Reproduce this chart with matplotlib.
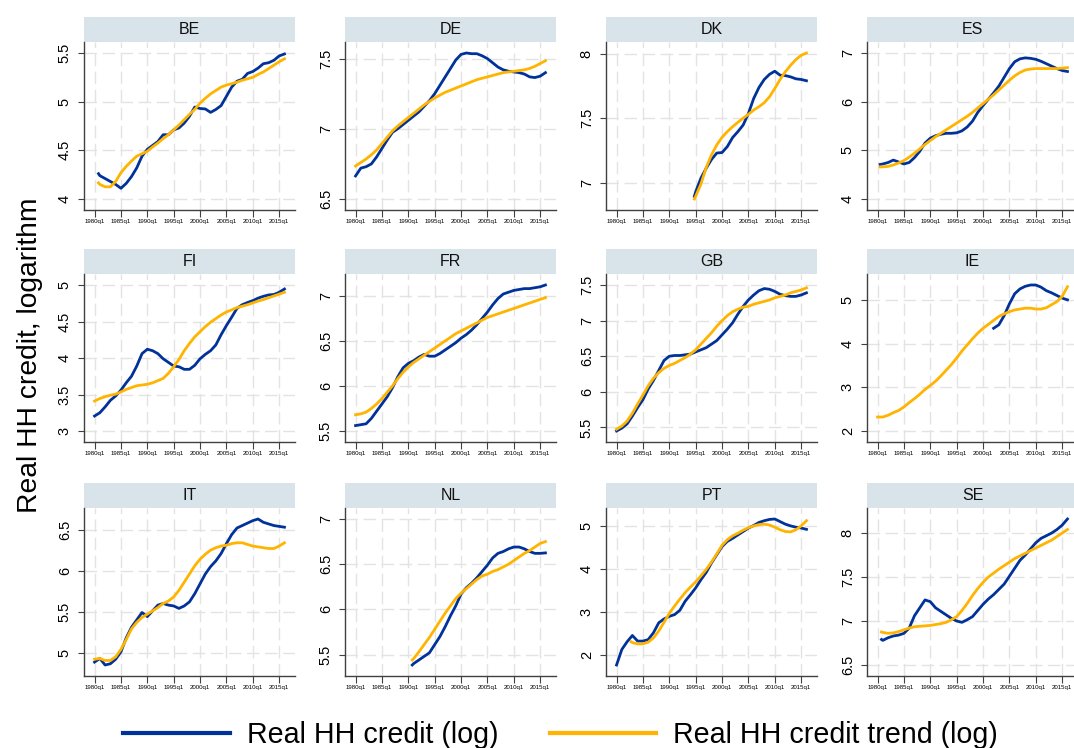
import numpy as np
import matplotlib
matplotlib.use("Agg")
import matplotlib.pyplot as plt
from matplotlib.lines import Line2D

plt.rcParams["font.family"] = ["Liberation Sans", "DejaVu Sans"]

# ---------------------------------------------------------------------------
# Data: real household credit (log) and its trend, yearly readings.
# Each series starts at the given year (quarter fraction allowed) and then
# continues at whole years up to 2016.
# ---------------------------------------------------------------------------
COUNTRIES = ["BE", "DE", "DK", "ES", "FI", "FR", "GB", "IE", "IT", "NL", "PT", "SE"]

BE_CREDIT_START, BE_TREND_START = 1980.75, 1980.75
BE_CREDIT = [4.26, 4.24, 4.21, 4.18, 4.15, 4.11, 4.16, 4.23, 4.32, 4.44, 4.51,
             4.55, 4.59, 4.66, 4.66, 4.71, 4.73, 4.78, 4.85, 4.945, 4.93,
             4.925, 4.89, 4.92, 4.96, 5.055, 5.15, 5.21, 5.23, 5.29, 5.31,
             5.345, 5.39, 5.40, 5.425, 5.47, 5.49]
BE_TREND = [4.166, 4.15, 4.125, 4.125, 4.18, 4.27, 4.335, 4.39, 4.44, 4.465, 4.49,
            4.535, 4.575, 4.62, 4.66, 4.71, 4.76, 4.815, 4.87, 4.92, 4.985,
            5.035, 5.08, 5.115, 5.15, 5.17, 5.185, 5.2, 5.22, 5.235, 5.25,
            5.28, 5.305, 5.34, 5.375, 5.41, 5.44]

DE_CREDIT_START, DE_TREND_START = 1980.0, 1980.0
DE_CREDIT = [6.664, 6.72, 6.73, 6.75, 6.80, 6.86, 6.92, 6.975, 7.0, 7.03,
             7.06, 7.09, 7.12, 7.16, 7.2, 7.25, 7.31, 7.37, 7.43, 7.49,
             7.53, 7.54, 7.535, 7.535, 7.52, 7.5, 7.47, 7.44, 7.42, 7.41,
             7.405, 7.4, 7.39, 7.37, 7.365, 7.375, 7.4]
DE_TREND = [6.735, 6.76, 6.785, 6.815, 6.85, 6.895, 6.94, 6.985, 7.02, 7.05,
            7.08, 7.11, 7.14, 7.17, 7.195, 7.22, 7.24, 7.26, 7.275, 7.29,
            7.305, 7.32, 7.335, 7.35, 7.36, 7.37, 7.38, 7.39, 7.40, 7.405,
            7.41, 7.415, 7.42, 7.43, 7.445, 7.465, 7.485]

DK_CREDIT_START, DK_TREND_START = 1994.75, 1994.75
DK_CREDIT = [6.895, 6.93, 7.036, 7.113, 7.18, 7.23, 7.234, 7.28, 7.35, 7.396,
             7.447, 7.537, 7.653, 7.738, 7.8, 7.84, 7.864, 7.833, 7.83, 7.82,
             7.805, 7.8, 7.79]
DK_TREND = [6.874, 6.895, 6.99, 7.118, 7.216, 7.293, 7.352, 7.396, 7.434, 7.468,
            7.5, 7.53, 7.563, 7.589, 7.62, 7.666, 7.73, 7.8, 7.86, 7.91,
            7.954, 7.987, 8.005]

ES_CREDIT_START, ES_TREND_START = 1980.5, 1980.5
ES_CREDIT = [4.71, 4.72, 4.75, 4.8, 4.76, 4.72, 4.75, 4.85, 4.98, 5.15, 5.25,
             5.3, 5.33, 5.35, 5.35, 5.36, 5.4, 5.48, 5.6, 5.78, 5.92,
             6.05, 6.18, 6.32, 6.5, 6.68, 6.82, 6.88, 6.9, 6.89, 6.87,
             6.83, 6.78, 6.73, 6.68, 6.64, 6.62]
ES_TREND = [4.66, 4.66, 4.67, 4.7, 4.74, 4.79, 4.86, 4.94, 5.03, 5.12, 5.2,
            5.28, 5.35, 5.42, 5.49, 5.56, 5.63, 5.7, 5.78, 5.87, 5.96,
            6.05, 6.14, 6.24, 6.34, 6.44, 6.53, 6.6, 6.65, 6.67, 6.68,
            6.68, 6.68, 6.68, 6.68, 6.69, 6.7]

FI_CREDIT_START, FI_TREND_START = 1980.0, 1980.0
FI_CREDIT = [3.205, 3.25, 3.33, 3.42, 3.48, 3.56, 3.66, 3.75, 3.89, 4.06,
             4.12, 4.1, 4.06, 3.99, 3.94, 3.89, 3.88, 3.845, 3.845, 3.9,
             3.99, 4.05, 4.1, 4.18, 4.32, 4.445, 4.56, 4.68, 4.73, 4.76,
             4.786, 4.82, 4.845, 4.864, 4.87, 4.9, 4.945]
FI_TREND = [3.41, 3.445, 3.47, 3.49, 3.505, 3.535, 3.57, 3.595, 3.62, 3.63,
            3.64, 3.66, 3.69, 3.72, 3.79, 3.88, 3.98, 4.1, 4.2, 4.29,
            4.36, 4.43, 4.49, 4.54, 4.59, 4.63, 4.66, 4.69, 4.71, 4.73,
            4.755, 4.78, 4.8, 4.825, 4.85, 4.875, 4.9]

FR_CREDIT_START, FR_TREND_START = 1980.0, 1980.0
FR_CREDIT = [5.56, 5.57, 5.58, 5.64, 5.72, 5.8, 5.88, 5.98, 6.1, 6.2,
             6.25, 6.28, 6.32, 6.35, 6.33, 6.33, 6.36, 6.4, 6.44, 6.48,
             6.53, 6.57, 6.62, 6.68, 6.75, 6.82, 6.9, 6.97, 7.02, 7.04,
             7.06, 7.07, 7.08, 7.08, 7.09, 7.1, 7.12]
FR_TREND = [5.68, 5.69, 5.71, 5.75, 5.8, 5.86, 5.93, 6.0, 6.08, 6.15,
            6.21, 6.26, 6.3, 6.34, 6.38, 6.42, 6.46, 6.5, 6.54, 6.58,
            6.61, 6.64, 6.67, 6.7, 6.73, 6.76, 6.78, 6.8, 6.82, 6.84,
            6.86, 6.88, 6.9, 6.92, 6.94, 6.96, 6.98]

GB_CREDIT_START, GB_TREND_START = 1980.0, 1980.0
GB_CREDIT = [5.45, 5.49, 5.55, 5.66, 5.78, 5.89, 6.04, 6.16, 6.3, 6.44,
             6.5, 6.51, 6.51, 6.52, 6.53, 6.56, 6.59, 6.62, 6.67, 6.72,
             6.8, 6.88, 6.97, 7.09, 7.2, 7.29, 7.36, 7.42, 7.45, 7.44,
             7.41, 7.37, 7.35, 7.34, 7.34, 7.36, 7.39]
GB_TREND = [5.475, 5.52, 5.59, 5.7, 5.83, 5.955, 6.085, 6.19, 6.27, 6.33,
            6.37, 6.4, 6.44, 6.48, 6.53, 6.59, 6.67, 6.75, 6.83, 6.92,
            7.0, 7.07, 7.125, 7.16, 7.19, 7.2, 7.23, 7.25, 7.27, 7.29,
            7.32, 7.34, 7.36, 7.39, 7.41, 7.43, 7.46]

IE_CREDIT_START, IE_TREND_START = 2002.0, 1980.0
IE_CREDIT = [4.35, 4.43, 4.64, 4.91, 5.14, 5.25, 5.31, 5.34, 5.34, 5.29,
             5.21, 5.16, 5.1, 5.04, 5.0]
IE_TREND = [2.32, 2.32, 2.36, 2.42, 2.47, 2.55, 2.65, 2.74, 2.84, 2.95,
            3.04, 3.14, 3.26, 3.39, 3.52, 3.67, 3.83, 3.97, 4.11, 4.24,
            4.35, 4.44, 4.53, 4.62, 4.68, 4.73, 4.77, 4.79, 4.81, 4.81,
            4.79, 4.79, 4.82, 4.89, 4.96, 5.08, 5.3]

IT_CREDIT_START, IT_TREND_START = 1980.0, 1980.0
IT_CREDIT = [4.885, 4.93, 4.85, 4.865, 4.92, 5.01, 5.18, 5.31, 5.4, 5.49,
             5.44, 5.51, 5.58, 5.6, 5.58, 5.57, 5.54, 5.57, 5.62, 5.72,
             5.84, 5.96, 6.05, 6.12, 6.21, 6.33, 6.44, 6.52, 6.55, 6.58,
             6.61, 6.63, 6.59, 6.57, 6.55, 6.54, 6.53]
IT_TREND = [4.92, 4.93, 4.905, 4.905, 4.95, 5.04, 5.16, 5.29, 5.37, 5.43,
            5.47, 5.51, 5.55, 5.6, 5.63, 5.68, 5.76, 5.86, 5.96, 6.06,
            6.14, 6.2, 6.25, 6.28, 6.3, 6.31, 6.33, 6.34, 6.34, 6.32,
            6.3, 6.29, 6.28, 6.27, 6.27, 6.3, 6.34]

NL_CREDIT_START, NL_TREND_START = 1990.75, 1990.75
NL_CREDIT = [5.385, 5.4, 5.44, 5.48, 5.52, 5.61, 5.7, 5.81, 5.93, 6.04, 6.17,
             6.24, 6.29, 6.35, 6.42, 6.49, 6.57, 6.62, 6.64, 6.67, 6.69,
             6.69, 6.67, 6.64, 6.62, 6.62, 6.625]
NL_TREND = [5.44, 5.455, 5.53, 5.61, 5.69, 5.78, 5.87, 5.96, 6.04, 6.12, 6.18,
            6.23, 6.28, 6.33, 6.37, 6.39, 6.42, 6.44, 6.47, 6.5, 6.54,
            6.58, 6.62, 6.65, 6.69, 6.73, 6.75]

PT_CREDIT_START, PT_TREND_START = 1980.0, 1982.75
PT_CREDIT = [1.77, 2.13, 2.31, 2.455, 2.325, 2.325, 2.36, 2.52, 2.75, 2.84,
             2.9, 2.94, 3.04, 3.25, 3.4, 3.56, 3.75, 3.92, 4.14, 4.33,
             4.52, 4.64, 4.71, 4.79, 4.87, 4.95, 5.01, 5.08, 5.12, 5.15,
             5.16, 5.1, 5.04, 5.0, 4.97, 4.95, 4.92]
PT_TREND = [2.31, 2.29, 2.26, 2.26, 2.3, 2.4, 2.56, 2.76, 2.97, 3.14, 3.3,
            3.45, 3.58, 3.7, 3.84, 3.99, 4.16, 4.35, 4.55, 4.68, 4.77,
            4.83, 4.9, 4.96, 5.0, 5.03, 5.04, 5.02, 4.97, 4.91, 4.87,
            4.86, 4.91, 5.0, 5.12]

SE_CREDIT_START, SE_TREND_START = 1980.75, 1980.75
SE_CREDIT = [6.79, 6.78, 6.81, 6.83, 6.84, 6.86, 6.92, 7.06, 7.15, 7.24, 7.22,
             7.15, 7.11, 7.07, 7.03, 7.0, 6.985, 7.015, 7.05, 7.12, 7.19,
             7.25, 7.3, 7.36, 7.42, 7.51, 7.6, 7.69, 7.75, 7.82, 7.89,
             7.94, 7.97, 8.0, 8.04, 8.09, 8.16]
SE_TREND = [6.875, 6.87, 6.86, 6.865, 6.88, 6.9, 6.92, 6.935, 6.94, 6.945, 6.95,
            6.96, 6.97, 6.985, 7.015, 7.05, 7.12, 7.2, 7.29, 7.37, 7.44,
            7.5, 7.545, 7.59, 7.63, 7.67, 7.71, 7.74, 7.77, 7.8, 7.83,
            7.86, 7.89, 7.92, 7.96, 8.0, 8.04]

Y_TICKS = {
    "BE": [4, 4.5, 5, 5.5], "DE": [6.5, 7, 7.5], "DK": [7, 7.5, 8],
    "ES": [4, 5, 6, 7], "FI": [3, 3.5, 4, 4.5, 5], "FR": [5.5, 6, 6.5, 7],
    "GB": [5.5, 6, 6.5, 7, 7.5], "IE": [2, 3, 4, 5], "IT": [5, 5.5, 6, 6.5],
    "NL": [5.5, 6, 6.5, 7], "PT": [2, 3, 4, 5], "SE": [6.5, 7, 7.5, 8],
}
X_TICKS = [1980, 1985, 1990, 1995, 2000, 2005, 2010, 2015]
X_TICK_LABELS = [f"{y}q1" for y in X_TICKS]

LABEL_CREDIT = "Real HH credit (log)"
LABEL_TREND = "Real HH credit trend (log)"
Y_TITLE = "Real HH credit, logarithm"

BLUE = "#003299"
YELLOW = "#ffb400"
STRIP = "#d9e4ea"
GRID = "#e3e3e3"
AXIS = "#404040"


def series_times(start, n):
    """First point at `start`, then whole years."""
    base = np.floor(start)
    rest = np.arange(base + 1, base + n)
    return np.concatenate([[start], rest])


series = {}
g = globals()
for c in COUNTRIES:
    series[c] = (
        (g[f"{c}_CREDIT_START"], g[f"{c}_CREDIT"]),
        (g[f"{c}_TREND_START"], g[f"{c}_TREND"]),
    )

# ---------------------------------------------------------------------------
# Layout (pixel geometry of a 1074 x 748 canvas)
# ---------------------------------------------------------------------------
W, H = 1074, 748
fig = plt.figure(figsize=(W / 100, H / 100), dpi=100)

COL_LEFT = [84, 345, 606, 867]
ROW_TOP = [42, 274, 508]
PANEL_W, PANEL_H, STRIP_H = 211, 168, 25
PAD_PX = 11


def rect(x, y_top, w, h):
    return [x / W, 1 - (y_top + h) / H, w / W, h / H]


for i, c in enumerate(COUNTRIES):
    r, k = divmod(i, 4)
    x0, y0 = COL_LEFT[k], ROW_TOP[r]

    # title strip
    hx = fig.add_axes(rect(x0, y0 - STRIP_H, PANEL_W, STRIP_H))
    hx.set_facecolor(STRIP)
    hx.set_xticks([])
    hx.set_yticks([])
    for s in hx.spines.values():
        s.set_visible(False)
    hx.text(0.5, 0.48, c, ha="center", va="center", fontsize=11.5,
            color="#111111", transform=hx.transAxes)

    ax = fig.add_axes(rect(x0, y0, PANEL_W, PANEL_H))
    (cs, cv), (ts, tv) = series[c]
    ax.plot(series_times(cs, len(cv)), cv, color=BLUE, lw=2.0,
            solid_joinstyle="round", zorder=3)
    ax.plot(series_times(ts, len(tv)), tv, color=YELLOW, lw=2.0,
            solid_joinstyle="round", zorder=4)

    ticks = Y_TICKS[c]
    allv = np.concatenate([cv, tv])
    lo = min(ticks[0], allv.min())
    hi = max(ticks[-1], allv.max())
    pad = (hi - lo) * PAD_PX / (PANEL_H - 2 * PAD_PX)
    ax.set_ylim(lo - pad, hi + pad)
    ax.set_xlim(1978.0, 2018.0)

    ax.set_yticks(ticks)
    ax.set_yticklabels([f"{t:g}" for t in ticks], rotation=90, va="center",
                       fontsize=10.5)
    ax.set_xticks(X_TICKS)
    ax.set_xticklabels(X_TICK_LABELS, fontsize=4.4)

    ax.tick_params(axis="y", length=4.3, width=0.8, color=AXIS, pad=4.5)
    ax.tick_params(axis="x", length=5, width=0.8, color=AXIS, pad=1.5)

    ax.grid(True, color=GRID, lw=1.0, linestyle=(0, (9, 4)), zorder=0)
    ax.set_axisbelow(True)
    for side in ("top", "right"):
        ax.spines[side].set_visible(False)
    for side in ("left", "bottom"):
        ax.spines[side].set_color(AXIS)
        ax.spines[side].set_linewidth(1.0)

# common y title
fig.text(30 / W, 1 - 355 / H, Y_TITLE, rotation=90, ha="center", va="center",
         fontsize=20.3)

# legend drawn along the bottom
ly = 1 - 733 / H
fig.add_artist(Line2D([123 / W, 230 / W], [ly, ly], color=BLUE, lw=3))
fig.text(247 / W, 1 - 743 / H, LABEL_CREDIT, fontsize=20.6, va="baseline")
fig.add_artist(Line2D([550 / W, 656 / W], [ly, ly], color=YELLOW, lw=3))
fig.text(673 / W, 1 - 743 / H, LABEL_TREND, fontsize=20.6, va="baseline")

fig.savefig("out.png", dpi=100)
